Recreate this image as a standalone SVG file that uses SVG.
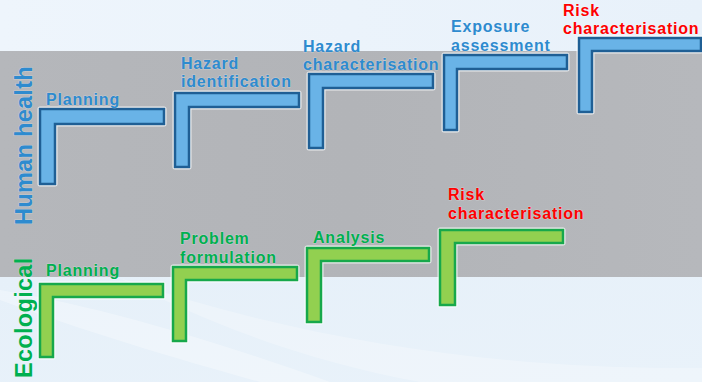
<svg xmlns="http://www.w3.org/2000/svg" width="702" height="382" viewBox="0 0 702 382">
<defs>
<linearGradient id="bgTop" x1="0" y1="0" x2="1" y2="0">
<stop offset="0" stop-color="#eef5fc"/><stop offset="1" stop-color="#e8f1fa"/>
</linearGradient>
<linearGradient id="band" x1="0" y1="0" x2="1" y2="0">
<stop offset="0" stop-color="#b5b7bb"/><stop offset="0.5" stop-color="#b2b4b8"/><stop offset="1" stop-color="#b6b8bc"/>
</linearGradient>
<linearGradient id="bgBot" x1="0" y1="0" x2="1" y2="1">
<stop offset="0" stop-color="#e6f0f9"/><stop offset="1" stop-color="#e9f2fa"/>
</linearGradient>
<style>
.halo{fill:none;stroke:#ffffff;stroke-opacity:0.75;stroke-width:5;stroke-linejoin:round}
.blue{fill:#69b3e7;stroke:#1f5f95;stroke-width:2.5;stroke-linejoin:miter}
.green{fill:#92d050;stroke:#17a84b;stroke-width:2.5;stroke-linejoin:miter}
text{font-family:"Liberation Sans",Arial,sans-serif;font-weight:bold;paint-order:stroke;stroke:#ffffff;stroke-opacity:0.3;stroke-width:1}
.lbl{font-size:16px;letter-spacing:0.8px}
.tb{fill:#2e8bcf}
.tg{fill:#00b050}
.tr{fill:#ff0000}
.side{font-size:23.5px;letter-spacing:0.3px}
</style>
</defs>
<rect x="0" y="0" width="702" height="382" fill="url(#bgTop)"/>
<rect x="0" y="277" width="702" height="105" fill="url(#bgBot)"/>
<path d="M0,300 C80,330 180,360 260,382 L330,382 C240,350 120,310 0,290 Z" fill="#ffffff" opacity="0.3"/>
<path d="M120,278 C300,340 500,370 702,368 L702,382 L420,382 C300,360 200,320 120,278 Z" fill="#ffffff" opacity="0.25"/>
<rect x="0" y="51" width="702" height="226" fill="url(#band)"/>

<text class="side tb" transform="translate(32,225) rotate(-90)">Human health</text>
<text class="side tg" transform="translate(32,378) rotate(-90)">Ecological</text>

<g id="hh-planning">
<path class="halo" d="M40,109 H164 V124 H55 V184 H40 Z"/>
<path class="blue" d="M40,109 H164 V124 H55 V184 H40 Z"/>
<text class="lbl tb" x="46" y="105">Planning</text>
</g>
<g id="hh-hazard-identification">
<path class="halo" d="M175,93 H299 V107 H189 V167 H175 Z"/>
<path class="blue" d="M175,93 H299 V107 H189 V167 H175 Z"/>
<text class="lbl tb" x="181" y="69">Hazard</text>
<text class="lbl tb" x="181" y="87">identification</text>
</g>
<g id="hh-hazard-characterisation">
<path class="halo" d="M309,74 H433 V88 H323 V148 H309 Z"/>
<path class="blue" d="M309,74 H433 V88 H323 V148 H309 Z"/>
<text class="lbl tb" x="303" y="52">Hazard</text>
<text class="lbl tb" x="303" y="70">characterisation</text>
</g>
<g id="hh-exposure-assessment">
<path class="halo" d="M444,55 H567 V69 H457 V130 H444 Z"/>
<path class="blue" d="M444,55 H567 V69 H457 V130 H444 Z"/>
<text class="lbl tb" x="451" y="32">Exposure</text>
<text class="lbl tb" x="451" y="51">assessment</text>
</g>
<g id="hh-risk-characterisation">
<path class="halo" d="M579,38 H701 V51 H592 V112 H579 Z"/>
<path class="blue" d="M579,38 H701 V51 H592 V112 H579 Z"/>
<text class="lbl tr" x="563" y="16">Risk</text>
<text class="lbl tr" x="563" y="34">characterisation</text>
</g>

<g id="eco-planning">
<path class="halo" d="M40,284 H163 V297 H53 V357 H40 Z"/>
<path class="green" d="M40,284 H163 V297 H53 V357 H40 Z"/>
<text class="lbl tg" x="46" y="276">Planning</text>
</g>
<g id="eco-problem-formulation">
<path class="halo" d="M173,267 H297 V280 H186 V341 H173 Z"/>
<path class="green" d="M173,267 H297 V280 H186 V341 H173 Z"/>
<text class="lbl tg" x="180" y="244">Problem</text>
<text class="lbl tg" x="180" y="263">formulation</text>
</g>
<g id="eco-analysis">
<path class="halo" d="M307,248 H429 V261 H321 V322 H307 Z"/>
<path class="green" d="M307,248 H429 V261 H321 V322 H307 Z"/>
<text class="lbl tg" x="313" y="243">Analysis</text>
</g>
<g id="eco-risk-characterisation">
<path class="halo" d="M440,230 H563 V243 H455 V305 H440 Z"/>
<path class="green" d="M440,230 H563 V243 H455 V305 H440 Z"/>
<text class="lbl tr" x="448" y="200">Risk</text>
<text class="lbl tr" x="448" y="219">characterisation</text>
</g>
</svg>
